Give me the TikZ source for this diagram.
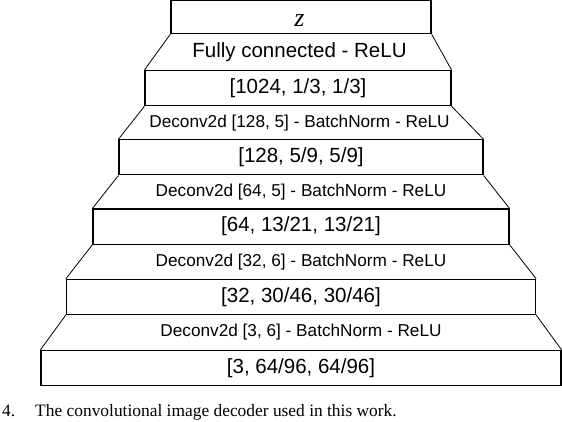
\documentclass[tikz,border=0pt]{standalone}
\usepackage{fontspec}
\setmainfont{Liberation Serif}
\setsansfont{Liberation Sans}
\usepackage{tikz}
\usetikzlibrary{positioning}

\begin{document}
\begin{tikzpicture}[x=1pt,y=1pt,node distance=34pt,
	layer/.style={draw,line width=1.2pt,minimum height=35pt,inner sep=0pt,
		font=\sffamily\fontsize{20.5}{22}\selectfont},
	op/.style={inner sep=0pt,font=\sffamily\fontsize{17.2}{19}\selectfont},
	side/.style={line width=0.8pt}]
	\useasboundingbox (0,0) rectangle (562,-422);
	\node[layer,minimum width=260pt,minimum height=33pt] (z) at (301,-17) {};
	\node[font=\rmfamily\itshape\fontsize{26}{28}\selectfont,inner sep=0pt] (zt) at (299.5,-21) {z};
	\node[layer,minimum width=306pt] (s1) [below=36pt of z,xshift=-3pt] {[1024, 1/3, 1/3]};
	\node[layer,minimum width=364pt] (s2) [below=33pt of s1,xshift=3pt] {[128, 5/9, 5/9]};
	\node[layer,minimum width=416pt] (s3) [below=33pt of s2] {[64, 13/21, 13/21]};
	\node[layer,minimum width=469pt] (s4) [below=34pt of s3] {[32, 30/46, 30/46]};
	\node[layer,minimum width=520pt] (s5) [below=35pt of s4] {[3, 64/96, 64/96]};
	\foreach \a/\b in {z/s1,s1/s2,s2/s3,s3/s4,s4/s5}
		\draw[side] (\a.south west) -- (\b.north west) (\a.south east) -- (\b.north east);
	\path (z.south) -- (s1.north) node[op,midway,font=\sffamily\fontsize{20.5}{22}\selectfont] (fc) {Fully connected - ReLU};
	\path (s1.south) -- (s2.north) node[op,midway] (d1) {Deconv2d [128, 5] - BatchNorm - ReLU};
	\path (s2.south) -- (s3.north) node[op,midway] (d2) {Deconv2d [64, 5] - BatchNorm - ReLU};
	\path (s3.south) -- (s4.north) node[op,midway] (d3) {Deconv2d [32, 6] - BatchNorm - ReLU};
	\path (s4.south) -- (s5.north) node[op,midway] (d4) {Deconv2d [3, 6] - BatchNorm - ReLU};
	\node[anchor=base west,inner sep=0pt,font=\fontsize{17.4}{20}\selectfont] (cap) at (2,-416.5) {4.\hspace{1.15em}The convolutional image decoder used in this work.};
\end{tikzpicture}
\end{document}
